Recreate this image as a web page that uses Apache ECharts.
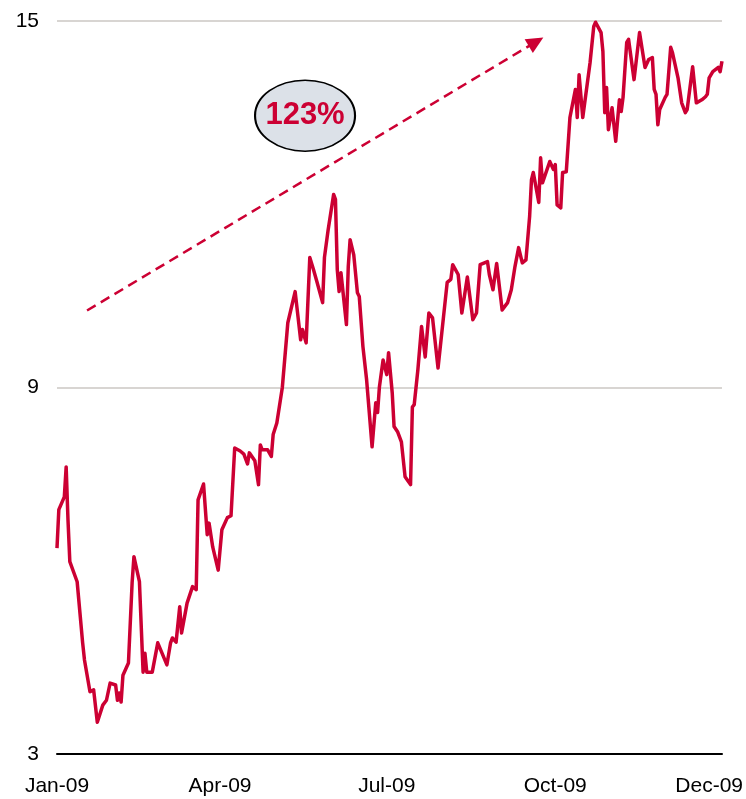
<!DOCTYPE html>
<html>
<head>
<meta charset="utf-8">
<script src="https://cdn.jsdelivr.net/npm/echarts@6/dist/echarts.min.js"></script>
<style>
html,body{margin:0;padding:0;background:#fff;}
#chart{width:746px;height:799px;}
</style>
</head>
<body>
<div id="chart"></div>
<script>
// Day offsets counted from 2009-01-02
const startDate = '2009-01-02';
const dayOffsets = [
  0,1,4,5,6,7,11,14,15,18,20,22,25,27,29,32,33,34,35,36,
  39,41,42,45,47,48,49,52,55,60,62,63,65,67,68,71,74,76,77,80,
  82,83,85,88,89,90,93,95,97,100,102,104,105,108,110,111,112,115,117,118,
  120,123,126,130,133,134,136,138,140,142,145,146,148,151,152,153,154,155,156,158,
  159,160,162,164,165,167,169,172,174,175,176,178,180,181,183,184,186,188,190,193,
  194,195,197,199,201,203,205,206,208,211,213,215,216,219,221,224,227,229,231,235,
  236,238,240,243,246,248,250,252,254,256,258,259,260,263,264,265,266,269,271,272,
  273,275,276,278,280,283,284,285,287,291,293,294,297,298,299,300,301,303,305,307,
  308,309,311,312,315,318,319,321,323,325,326,327,328,329,332,333,335,336,339,341,
  343,344,347,349,352,354,355,356,358,361,362,363
];
const values = [
  6.37,7.00,7.21,7.70,6.83,6.15,5.82,4.82,4.54,4.02,4.05,3.52,3.80,3.88,4.16,4.13,3.88,4.00,3.85,4.29,
  4.49,5.80,6.23,5.82,4.34,4.65,4.34,4.34,4.82,4.46,4.82,4.90,4.83,5.41,4.98,5.47,5.74,5.69,7.16,7.42,
  6.59,6.78,6.39,6.01,6.01,6.67,6.87,6.90,8.01,7.96,7.91,7.75,7.93,7.80,7.41,8.06,7.98,7.98,7.87,8.23,
  8.42,9.00,10.06,10.57,9.78,9.95,9.73,11.13,10.93,10.72,10.39,11.13,11.58,12.16,12.08,10.93,10.57,10.88,10.60,10.03,
  10.98,11.42,11.17,10.55,10.49,9.67,9.13,8.03,8.75,8.59,9.01,9.45,9.21,9.57,8.91,8.36,8.27,8.11,7.54,7.41,
  8.68,8.72,9.29,10.00,9.50,10.22,10.14,10.16,9.32,10.16,10.72,10.77,11.01,10.85,10.22,10.81,10.11,10.22,11.01,11.06,
  10.85,10.60,11.03,10.27,10.39,10.60,10.98,11.29,11.04,11.09,11.80,12.40,12.52,12.03,12.76,12.35,12.35,12.70,12.57,12.65,
  11.99,11.94,12.52,12.53,13.42,13.88,13.42,14.12,13.42,14.32,14.91,14.98,14.81,14.50,13.50,13.91,13.22,13.58,13.03,13.71,
  13.52,13.75,14.65,14.70,14.04,14.81,14.83,14.24,14.37,14.40,13.88,13.80,13.30,13.55,13.75,13.80,14.57,14.48,14.07,13.66,
  13.50,13.55,14.25,13.66,13.71,13.76,13.80,14.07,14.17,14.24,14.17,14.34
];
const tickDays = [0, 89, 180, 272, 356];
const tickLabels = ['Jan-09', 'Apr-09', 'Jul-09', 'Oct-09', 'Dec-09'];
const yTicks = [3, 9, 15];
const annotationText = '123%';

const RED = '#cc0033';
const FONT = 'Liberation Sans, Arial, sans-serif';

const chart = echarts.init(document.getElementById('chart'), null, {renderer: 'canvas'});
const seriesData = dayOffsets.map((d, i) => [d, values[i]]);

chart.setOption({
  animation: false,
  backgroundColor: '#ffffff',
  grid: {left: 57, right: 24, top: 21, bottom: 45, containLabel: false},
  xAxis: {
    type: 'value',
    min: 0,
    max: 363,
    axisLine: {show: true, lineStyle: {color: '#000', width: 2}},
    axisTick: {show: false},
    splitLine: {show: false},
    axisLabel: {
      customValues: tickDays,
      formatter: v => { const k = tickDays.indexOf(v); return k >= 0 ? tickLabels[k] : ''; },
      color: '#000',
      fontFamily: FONT,
      fontSize: 21,
      margin: 22
    }
  },
  yAxis: {
    type: 'value',
    min: yTicks[0],
    max: yTicks[yTicks.length - 1],
    interval: yTicks[1] - yTicks[0],
    axisLine: {show: false},
    axisTick: {show: false},
    splitLine: {show: true, lineStyle: {color: '#cbc7c3', width: 1.5}},
    axisLabel: {color: '#000', fontFamily: FONT, fontSize: 21, margin: 18}
  },
  series: [{
    type: 'line',
    data: seriesData,
    showSymbol: false,
    symbol: 'none',
    lineStyle: {color: RED, width: 3.5, join: 'round'},
    z: 5,
    markLine: {
      silent: true,
      animation: false,
      symbol: ['none', 'triangle'],
      symbolSize: [16, 17],
      label: {show: false},
      lineStyle: {color: RED, width: 2.5, type: [10, 6]},
      data: [[
        {coord: [16.4, 10.26], symbol: 'none'},
        {coord: [261.5, 14.66], symbol: 'triangle'}
      ]]
    },
    markPoint: {
      silent: true,
      animation: false,
      data: [{
        coord: [135.4, 13.45],
        symbol: 'circle',
        symbolSize: [100, 71],
        itemStyle: {color: '#dce1e8', borderColor: '#000', borderWidth: 1.8},
        label: {
          show: true,
          position: 'inside',
          formatter: annotationText,
          color: RED,
          fontFamily: FONT,
          fontWeight: 'bold',
          fontSize: 31
        }
      }]
    }
  }]
});
</script>
</body>
</html>
